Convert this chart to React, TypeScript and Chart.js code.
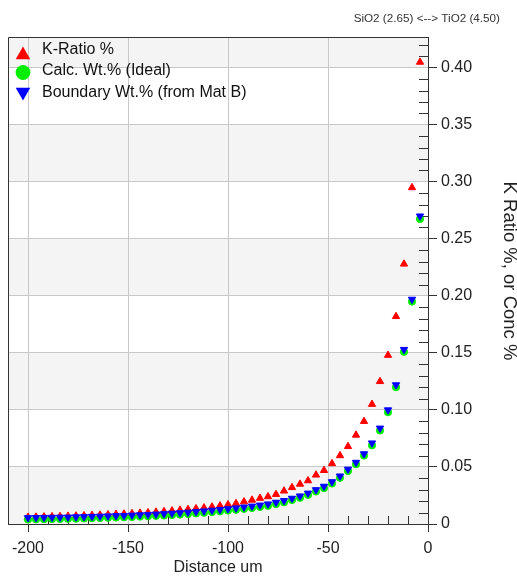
import { useEffect, useRef } from 'react';
import { Chart, registerables } from 'chart.js';

Chart.register(...registerables);

const FONT = "'Liberation Sans', Arial, sans-serif";

const chartTitle = 'SiO2 (2.65) <--> TiO2 (4.50)';
const xAxisTitle = 'Distance um';
const yAxisTitle = 'K Ratio %, or Conc %';

const distanceUm = [
  -200, -196, -192, -188, -184, -180, -176, -172, -168, -164,
  -160, -156, -152, -148, -144, -140, -136, -132, -128, -124,
  -120, -116, -112, -108, -104, -100, -96, -92, -88, -84,
  -80, -76, -72, -68, -64, -60, -56, -52, -48, -44,
  -40, -36, -32, -28, -24, -20, -16, -12, -8, -4,
];

const kRatio = [
  0.006, 0.0061, 0.0063, 0.0065, 0.0067, 0.0069, 0.0071, 0.0073, 0.0076, 0.0079,
  0.0082, 0.0085, 0.0088, 0.0092, 0.0096, 0.0100, 0.0105, 0.0110, 0.0116, 0.0122,
  0.0128, 0.0135, 0.0142, 0.0150, 0.0160, 0.0170, 0.0180, 0.0195, 0.0210, 0.0226,
  0.0240, 0.0260, 0.0290, 0.0320, 0.0350, 0.0380, 0.0430, 0.0470, 0.0530, 0.0600,
  0.0680, 0.0780, 0.0900, 0.1050, 0.1250, 0.1480, 0.1820, 0.2280, 0.2950, 0.4050,
];

const calcWt = [
  0.0040, 0.0041, 0.0042, 0.0043, 0.0044, 0.0045, 0.0047, 0.0049, 0.0051, 0.0053,
  0.0055, 0.0057, 0.0059, 0.0062, 0.0065, 0.0068, 0.0071, 0.0075, 0.0079, 0.0083,
  0.0088, 0.0093, 0.0099, 0.0105, 0.0111, 0.0118, 0.0125, 0.0133, 0.0141, 0.0150,
  0.0160, 0.0175, 0.0190, 0.0210, 0.0230, 0.0255, 0.0285, 0.0315, 0.0355, 0.0405,
  0.0465, 0.0525, 0.0600, 0.0690, 0.0820, 0.0980, 0.1200, 0.1510, 0.1950, 0.2675,
];

const boundaryWt = [
  0.0055, 0.0056, 0.0057, 0.0058, 0.0059, 0.0060, 0.0062, 0.0064, 0.0066, 0.0068,
  0.0070, 0.0072, 0.0074, 0.0077, 0.0080, 0.0083, 0.0086, 0.0090, 0.0094, 0.0098,
  0.0103, 0.0108, 0.0114, 0.0120, 0.0126, 0.0133, 0.0140, 0.0148, 0.0156, 0.0165,
  0.0175, 0.0190, 0.0205, 0.0225, 0.0245, 0.0270, 0.0300, 0.0330, 0.0370, 0.0420,
  0.0480, 0.0540, 0.0615, 0.0710, 0.0840, 0.1000, 0.1220, 0.1530, 0.1970, 0.2700,
];

const xTickValues = [-200, -150, -100, -50, 0];
const yTickValues = [0, 0.05, 0.1, 0.15, 0.2, 0.25, 0.3, 0.35, 0.4];
const yTickLabels = ['0', '0.05', '0.10', '0.15', '0.20', '0.25', '0.30', '0.35', '0.40'];

const RED = '#ff0000';
const GREEN = '#00ee00';
const BLUE = '#0000ff';
const DARK = '#333333';
const GRID = '#c8c8c8';

function triPath(ctx: CanvasRenderingContext2D, x: number, y: number, r: number, down: boolean) {
  const s = down ? -1 : 1;
  ctx.beginPath();
  ctx.moveTo(x, y - s * r);
  ctx.lineTo(x + r * 0.866, y + s * r / 2);
  ctx.lineTo(x - r * 0.866, y + s * r / 2);
  ctx.closePath();
}

const decorPlugin = {
  id: 'decor',
  beforeDraw(chart: any) {
    const { ctx, chartArea: a, scales } = chart;
    const y = scales.y;
    ctx.save();
    ctx.fillStyle = '#ffffff';
    ctx.fillRect(a.left, a.top, a.right - a.left, a.bottom - a.top);
    ctx.fillStyle = '#f4f4f4';
    for (let v = 0; v < y.max - 1e-9; v += 0.1) {
      const top = y.getPixelForValue(Math.min(v + 0.05, y.max));
      const bottom = y.getPixelForValue(v);
      ctx.fillRect(a.left, top, a.right - a.left, bottom - top);
    }
    ctx.restore();
  },
  beforeDatasetsDraw(chart: any) {
    const { ctx, chartArea: a, scales } = chart;
    const { x, y } = scales;
    ctx.save();
    ctx.strokeStyle = DARK;
    ctx.lineWidth = 1;
    ctx.beginPath();
    for (let k = 1; k <= 42; k++) {
      if (k % 5 === 0) continue;
      const py = Math.round(y.getPixelForValue(k / 100)) + 0.5;
      ctx.moveTo(a.right - 9, py);
      ctx.lineTo(a.right, py);
    }
    for (let v = -200; v < 0; v += 10) {
      if (v % 50 === 0) continue;
      const px = Math.round(x.getPixelForValue(v)) + 0.5;
      ctx.moveTo(px, a.bottom);
      ctx.lineTo(px, a.bottom - 8);
    }
    ctx.stroke();
    ctx.beginPath();
    ctx.moveTo(Math.round(a.left) + 0.5, a.bottom);
    ctx.lineTo(Math.round(a.left) + 0.5, Math.round(a.top) + 0.5);
    ctx.lineTo(a.right, Math.round(a.top) + 0.5);
    ctx.stroke();
    ctx.restore();
  },
  afterDraw(chart: any) {
    const { ctx, chartArea: a } = chart;
    ctx.save();
    // legend
    const ds = chart.data.datasets;
    const rowY = [50, 71, 93];
    const markY = [55, 72.5, 92];
    ctx.font = `16px ${FONT}`;
    ctx.textBaseline = 'middle';
    ctx.textAlign = 'left';
    ds.forEach((d: any, i: number) => {
      const mx = a.left + 15;
      ctx.fillStyle = d.backgroundColor;
      if (d.pointStyle === 'circle') {
        ctx.beginPath();
        ctx.arc(mx, markY[i], 7.4, 0, Math.PI * 2);
        ctx.fill();
      } else {
        triPath(ctx, mx, markY[i], 8.4, d.pointRotation === 180);
        ctx.fill();
      }
      ctx.fillStyle = '#111';
      ctx.fillText(d.label, a.left + 34, rowY[i]);
    });
    // y axis title
    ctx.translate(509, 271);
    ctx.rotate(Math.PI / 2);
    ctx.font = `18.5px ${FONT}`;
    ctx.textAlign = 'center';
    ctx.textBaseline = 'middle';
    ctx.fillStyle = '#222';
    ctx.fillText(yAxisTitle, 0, 0);
    ctx.restore();
  },
};

export default function App() {
  const canvasRef = useRef<HTMLCanvasElement | null>(null);

  useEffect(() => {
    if (!canvasRef.current) return;
    const mk = (arr: number[]) => distanceUm.map((x, i) => ({ x, y: arr[i] }));
    const chart = new Chart(canvasRef.current, {
      type: 'scatter',
      data: {
        datasets: [
          {
            label: 'K-Ratio %',
            data: mk(kRatio),
            pointStyle: 'triangle',
            pointRadius: 4.2,
            pointRotation: 0,
            backgroundColor: RED,
            borderColor: RED,
            borderWidth: 1,
            order: 3,
          },
          {
            label: 'Calc. Wt.% (Ideal)',
            data: mk(calcWt),
            pointStyle: 'circle',
            pointRadius: 3.6,
            backgroundColor: GREEN,
            borderColor: GREEN,
            borderWidth: 1,
            order: 2,
          },
          {
            label: 'Boundary Wt.% (from Mat B)',
            data: mk(boundaryWt),
            pointStyle: 'triangle',
            pointRotation: 180,
            pointRadius: 4.2,
            backgroundColor: BLUE,
            borderColor: BLUE,
            borderWidth: 1,
            order: 1,
          },
        ],
      },
      options: {
        animation: false,
        responsive: true,
        maintainAspectRatio: false,
        layout: { padding: { left: 8, right: 17, top: 0, bottom: 0 } },
        plugins: {
          legend: { display: false },
          tooltip: { enabled: false },
          title: {
            display: true,
            text: chartTitle,
            align: 'end',
            color: '#333',
            font: { family: FONT, size: 11.7, weight: 'normal' },
            padding: { top: 11.5, bottom: 11.5 },
          },
        },
        scales: {
          x: {
            type: 'linear',
            position: 'bottom',
            min: -210,
            max: 0,
            afterBuildTicks: (axis: any) => {
              axis.ticks = xTickValues.map((v) => ({ value: v }));
            },
            afterFit: (axis: any) => {
              axis.height = 54;
            },
            ticks: {
              font: { family: FONT, size: 16 },
              color: '#222',
              padding: 6.5,
              maxRotation: 0,
              callback: (v: any) => String(v),
            },
            grid: { color: GRID, tickColor: DARK, tickLength: 8 },
            border: { color: DARK, width: 1 },
            title: {
              display: true,
              text: xAxisTitle,
              color: '#222',
              font: { family: FONT, size: 16 },
              padding: { top: 0, bottom: 1 },
            },
          },
          y: {
            type: 'linear',
            position: 'right',
            min: 0,
            max: 0.427,
            afterBuildTicks: (axis: any) => {
              axis.ticks = yTickValues.map((v) => ({ value: v }));
            },
            afterFit: (axis: any) => {
              axis.width = 72;
            },
            ticks: {
              font: { family: FONT, size: 16 },
              color: '#222',
              padding: 4,
              callback: (_v: any, i: number) => yTickLabels[i],
            },
            grid: { color: GRID, tickColor: DARK, tickLength: 9 },
            border: { color: DARK, width: 1 },
          },
        },
      },
      plugins: [decorPlugin],
    } as any);
    return () => chart.destroy();
  }, []);

  return (
    <div style={{ position: 'absolute', left: 0, top: 0, width: 517, height: 578 }}>
      <canvas ref={canvasRef} />
    </div>
  );
}
